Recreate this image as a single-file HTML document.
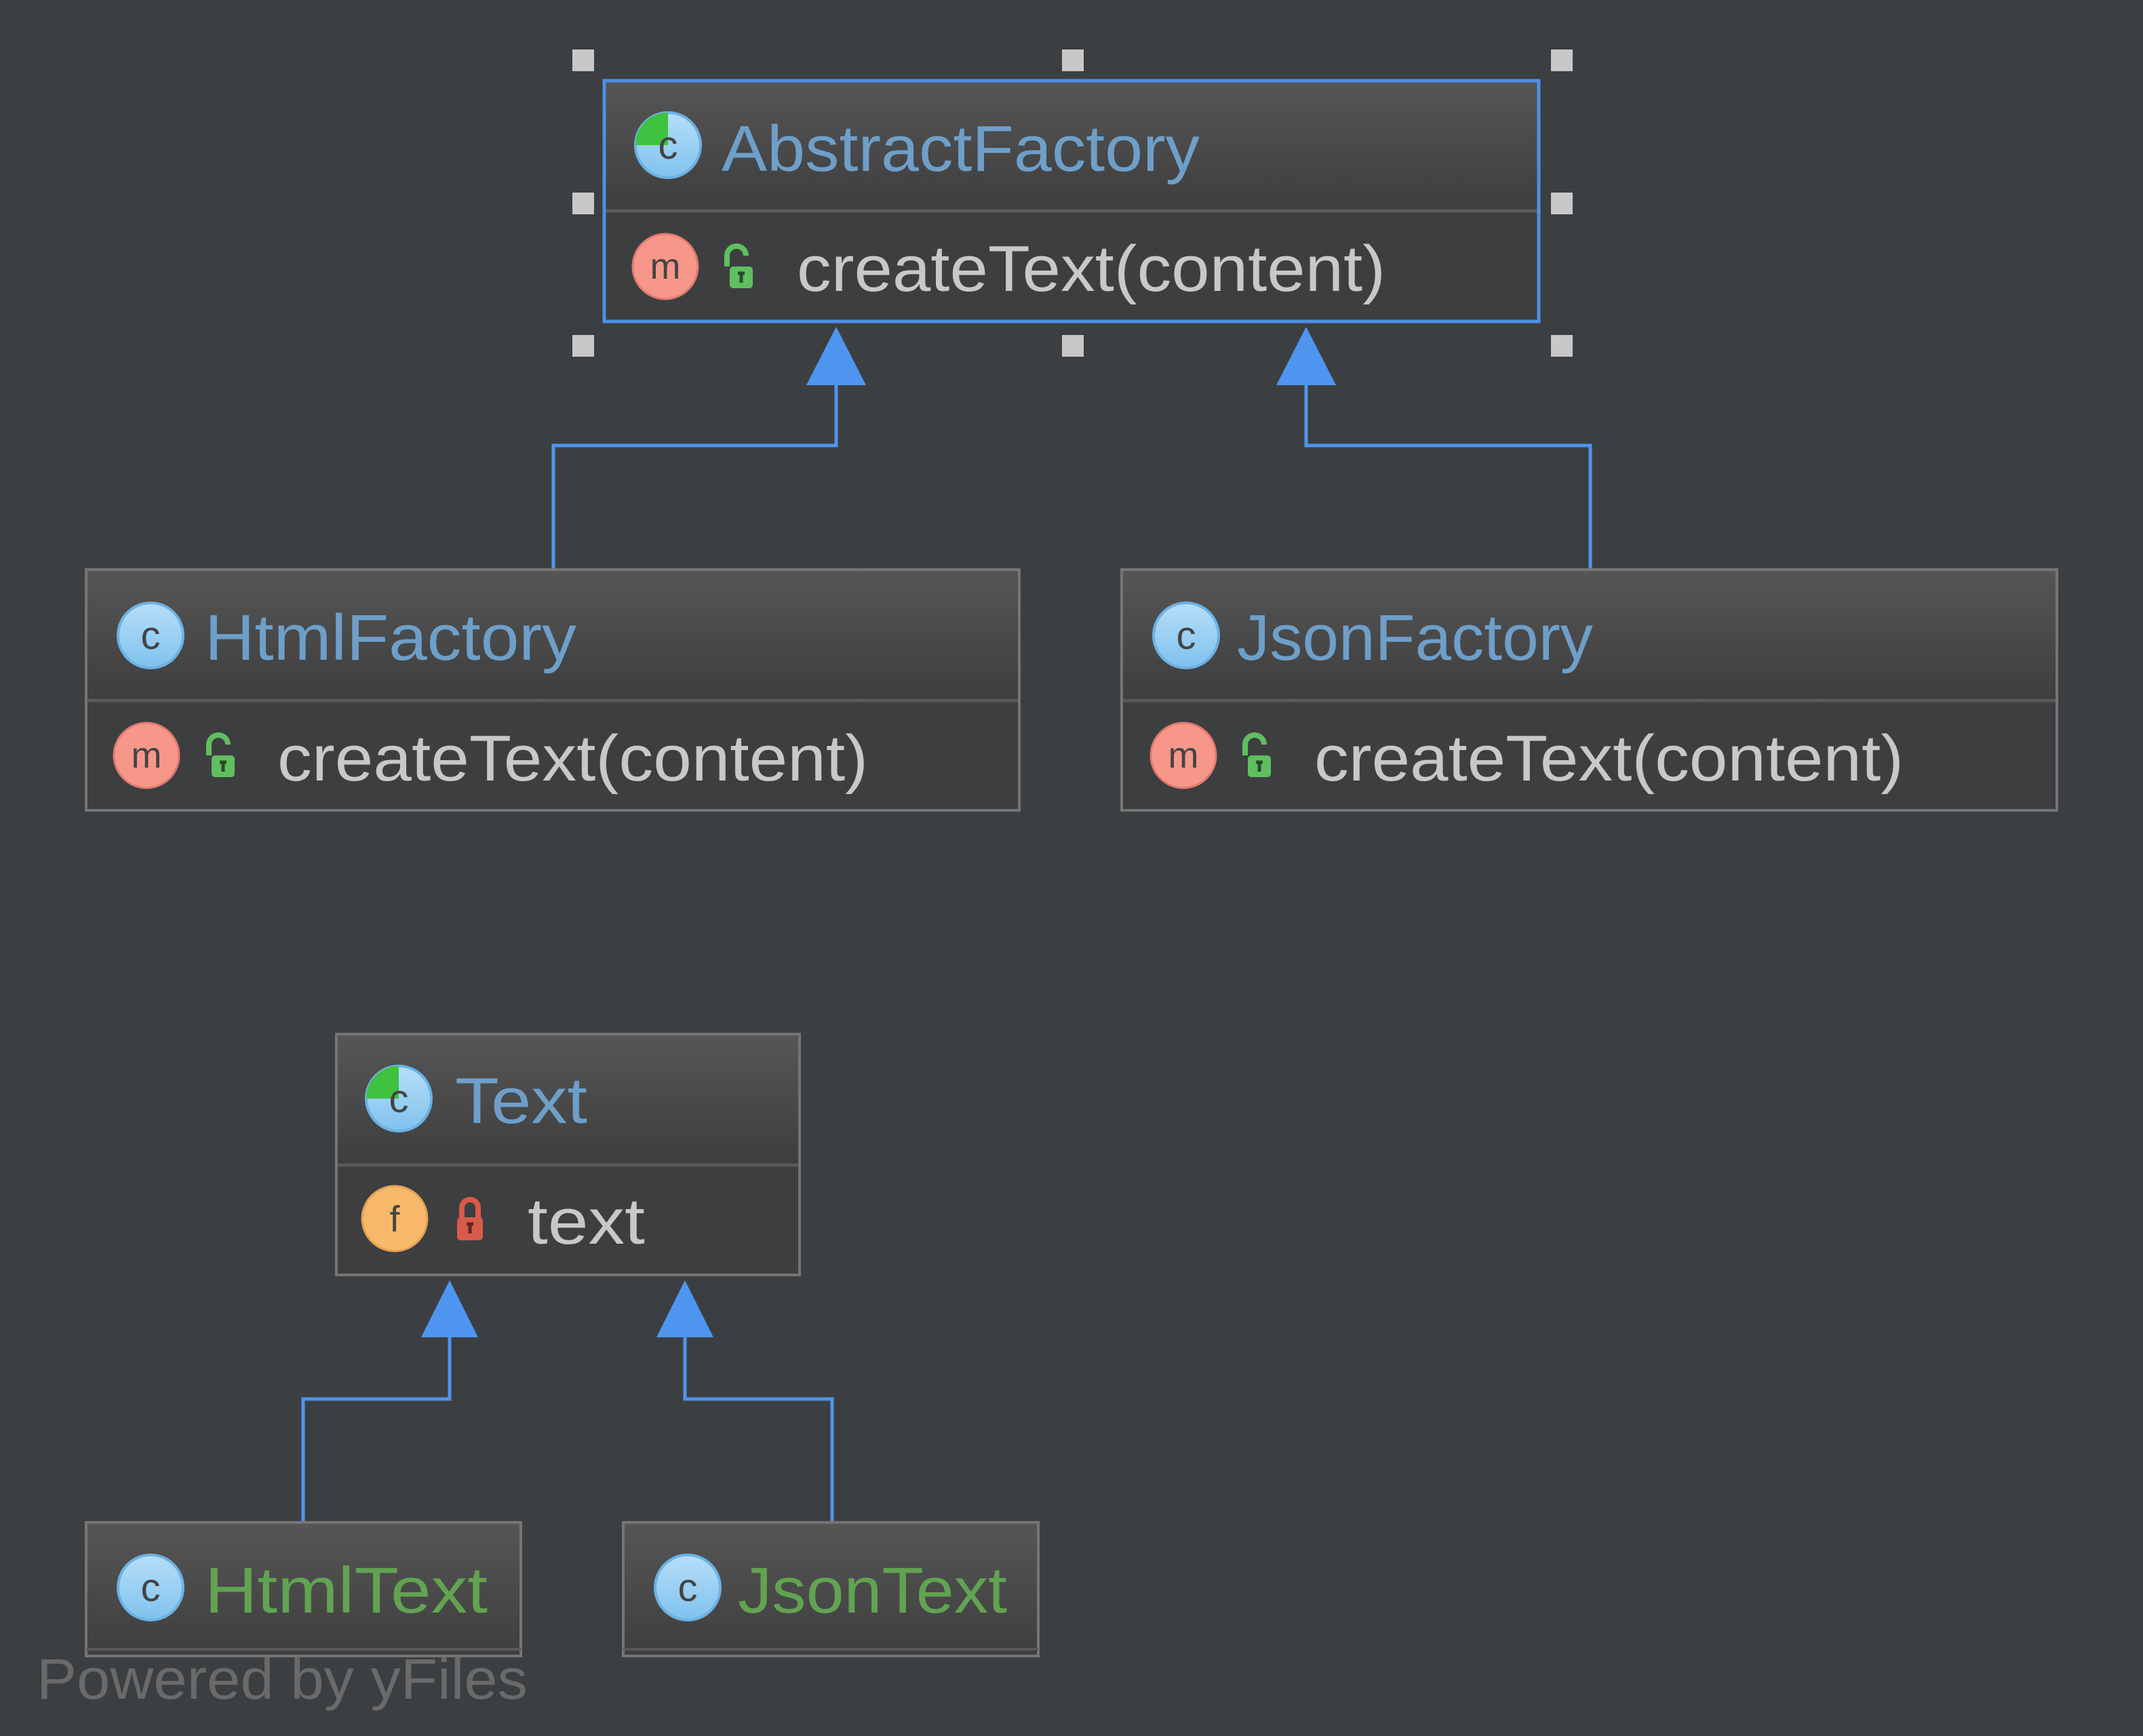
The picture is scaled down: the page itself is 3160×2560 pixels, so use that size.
<!DOCTYPE html>
<html><head><meta charset="utf-8"><style>
html,body{margin:0;padding:0;background:#3c3f41;}
svg{display:block;}
text{font-family:"Liberation Sans","DejaVu Sans",sans-serif;}
</style></head><body>
<svg width="3160" height="2560" viewBox="0 0 3160 2560" xmlns="http://www.w3.org/2000/svg">
<defs>
<linearGradient id="hg" x1="0" y1="0" x2="0" y2="1"><stop offset="0" stop-color="#565656"/><stop offset="1" stop-color="#3e3e3e"/></linearGradient>
<linearGradient id="cg" x1="0" y1="0" x2="0" y2="1"><stop offset="0" stop-color="#b6def8"/><stop offset="1" stop-color="#7fc2ee"/></linearGradient>
<g id="cicon"><circle r="48" fill="url(#cg)" stroke="#6cb2e4" stroke-width="4"/><text x="0" y="20" font-size="58" fill="#444" text-anchor="middle">c</text></g>
<g id="aicon"><circle r="48" fill="url(#cg)" stroke="#6cb2e4" stroke-width="4"/><path d="M0,0 L0,-48 A48,48 0 0,0 -48,0 Z" fill="#3fc23f"/><text x="0" y="20" font-size="58" fill="#444" text-anchor="middle">c</text></g>
<g id="micon"><circle r="48" fill="#f6978a" stroke="#e07a6e" stroke-width="3"/><text x="0" y="18" font-size="54" fill="#444" text-anchor="middle">m</text></g>
<g id="glock"><path d="M-18,-6 L-18,-22 A14,14 0 0,1 10,-22" fill="none" stroke="#5fbf5f" stroke-width="8"/><rect x="-14" y="-6" width="34" height="32" rx="5" fill="#5fbf5f"/><path d="M-2,4 h10 M3,4 v14" stroke="#2b4a2b" stroke-width="5"/></g>
<g id="rlock"><path d="M-12,-4 L-12,-20 A12,12 0 0,1 12,-20 L12,-4" fill="none" stroke="#d85a4a" stroke-width="8"/><rect x="-19" y="-6" width="38" height="34" rx="5" fill="#d85a4a"/><path d="M-5,4 h10 M0,4 v14" stroke="#5a2a22" stroke-width="5"/></g>
</defs>

<!-- connectors -->
<g fill="none" stroke="#4e95ef" stroke-width="5">
<polyline points="816,838 816,657 1233,657 1233,566"/>
<polyline points="2345,838 2345,657 1926,657 1926,566"/>
<polyline points="447,2243 447,2063 663,2063 663,1970"/>
<polyline points="1227,2243 1227,2063 1010,2063 1010,1970"/>
</g>
<g fill="#4e95ef">
<polygon points="1233,482 1189,568 1277,568"/>
<polygon points="1926,482 1882,568 1970,568"/>
<polygon points="663,1888 621,1972 705,1972"/>
<polygon points="1010,1888 968,1972 1052,1972"/>
</g>

<!-- AbstractFactory -->
<rect x="889" y="117" width="1382" height="193" fill="url(#hg)"/>
<rect x="889" y="310" width="1382" height="166" fill="#3d3e40"/>
<line x1="889" y1="311" x2="2271" y2="311" stroke="#5a5a5a" stroke-width="5"/>
<rect x="891" y="119" width="1378" height="355" fill="none" stroke="#4e8fe8" stroke-width="5"/>
<use href="#aicon" x="985" y="214"/>
<text x="1064" y="252" font-size="96" fill="#6e9fc9" textLength="705" lengthAdjust="spacingAndGlyphs">AbstractFactory</text>
<use href="#micon" x="981" y="393"/>
<use href="#glock" x="1090" y="399"/>
<text x="1175" y="429" font-size="96" fill="#c8c8c8" textLength="868" lengthAdjust="spacingAndGlyphs">createText(content)</text>
<g fill="#c8c8c8">
<rect x="844" y="73" width="32" height="32"/><rect x="1566" y="73" width="32" height="32"/><rect x="2287" y="73" width="32" height="32"/>
<rect x="844" y="284" width="32" height="32"/><rect x="2287" y="284" width="32" height="32"/>
<rect x="844" y="494" width="32" height="32"/><rect x="1566" y="494" width="32" height="32"/><rect x="2287" y="494" width="32" height="32"/>
</g>

<!-- HtmlFactory -->
<rect x="125" y="838" width="1380" height="194" fill="url(#hg)"/>
<rect x="125" y="1032" width="1380" height="165" fill="#3d3e40"/>
<line x1="125" y1="1033" x2="1505" y2="1033" stroke="#5a5a5a" stroke-width="5"/>
<rect x="127" y="840" width="1376" height="355" fill="none" stroke="#757575" stroke-width="4"/>
<use href="#cicon" x="222" y="937"/>
<text x="302" y="973" font-size="96" fill="#6e9fc9" textLength="548" lengthAdjust="spacingAndGlyphs">HtmlFactory</text>
<use href="#micon" x="216" y="1114"/>
<use href="#glock" x="326" y="1120"/>
<text x="409" y="1151" font-size="96" fill="#c8c8c8" textLength="871" lengthAdjust="spacingAndGlyphs">createText(content)</text>

<!-- JsonFactory -->
<rect x="1652" y="838" width="1383" height="194" fill="url(#hg)"/>
<rect x="1652" y="1032" width="1383" height="165" fill="#3d3e40"/>
<line x1="1652" y1="1033" x2="3035" y2="1033" stroke="#5a5a5a" stroke-width="5"/>
<rect x="1654" y="840" width="1379" height="355" fill="none" stroke="#757575" stroke-width="4"/>
<use href="#cicon" x="1749" y="937"/>
<text x="1824" y="973" font-size="96" fill="#6e9fc9" textLength="525" lengthAdjust="spacingAndGlyphs">JsonFactory</text>
<use href="#micon" x="1745" y="1114"/>
<use href="#glock" x="1854" y="1120"/>
<text x="1938" y="1151" font-size="96" fill="#c8c8c8" textLength="869" lengthAdjust="spacingAndGlyphs">createText(content)</text>

<!-- Text -->
<rect x="494" y="1523" width="687" height="194" fill="url(#hg)"/>
<rect x="494" y="1717" width="687" height="165" fill="#3d3e40"/>
<line x1="494" y1="1718" x2="1181" y2="1718" stroke="#5a5a5a" stroke-width="5"/>
<rect x="496" y="1525" width="683" height="355" fill="none" stroke="#757575" stroke-width="4"/>
<use href="#aicon" x="588" y="1620"/>
<text x="671" y="1656" font-size="96" fill="#6e9fc9" textLength="195" lengthAdjust="spacingAndGlyphs">Text</text>
<circle cx="582" cy="1797" r="48" fill="#f7b969" stroke="#e3a052" stroke-width="3"/>
<text x="582" y="1816" font-size="54" fill="#444" text-anchor="middle">f</text>
<use href="#rlock" x="693" y="1801"/>
<text x="778" y="1834" font-size="96" fill="#c8c8c8" textLength="173" lengthAdjust="spacingAndGlyphs">text</text>

<!-- HtmlText -->
<rect x="125" y="2243" width="645" height="201" fill="url(#hg)"/>
<rect x="127" y="2245" width="641" height="197" fill="none" stroke="#757575" stroke-width="4"/>
<line x1="127" y1="2432" x2="768" y2="2432" stroke="#5a5a5a" stroke-width="4"/>
<use href="#cicon" x="222" y="2341"/>
<text x="302" y="2378" font-size="96" fill="#62a352" textLength="417" lengthAdjust="spacingAndGlyphs">HtmlText</text>

<!-- JsonText -->
<rect x="917" y="2243" width="616" height="201" fill="url(#hg)"/>
<rect x="919" y="2245" width="612" height="197" fill="none" stroke="#757575" stroke-width="4"/>
<line x1="919" y1="2432" x2="1531" y2="2432" stroke="#5a5a5a" stroke-width="4"/>
<use href="#cicon" x="1014" y="2341"/>
<text x="1088" y="2378" font-size="96" fill="#62a352" textLength="397" lengthAdjust="spacingAndGlyphs">JsonText</text>

<text x="54" y="2505" font-size="84" fill="#6a6a6a" textLength="724" lengthAdjust="spacingAndGlyphs">Powered by yFiles</text>
</svg>
</body></html>
